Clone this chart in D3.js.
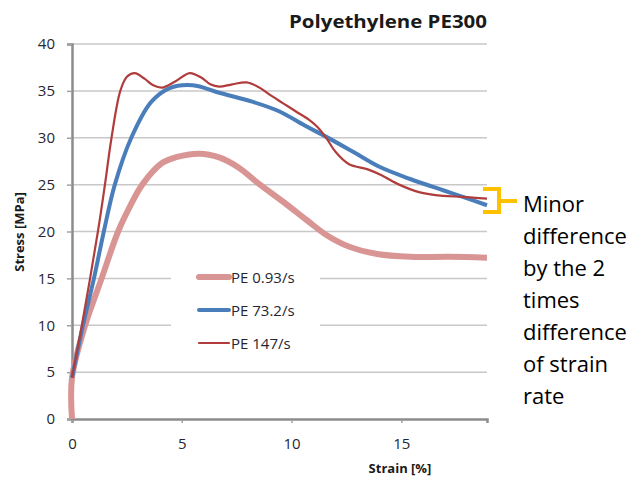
<!DOCTYPE html>
<html>
<head>
<meta charset="utf-8">
<script src="https://cdn.jsdelivr.net/npm/d3@7"></script>
<style>
  body { margin: 0; background: #fff; }
  svg { display: block; }
</style>
</head>
<body>
<svg width="644" height="491"></svg>
<script>
// strain [%], stress [MPa]
const pe093 = [
  [0, 0], [0, 4.4], [0.6, 10], [1.35, 15], [2.1, 20], [2.6, 22.5], [3.2, 25],
  [4.1, 27.3], [4.7, 27.9], [5.8, 28.3], [6.7, 27.9], [7.6, 26.8], [8.5, 25.1],
  [9.6, 23.2], [10.7, 21.2], [11.6, 19.6], [12.6, 18.4], [13.9, 17.6],
  [15.4, 17.3], [17.2, 17.3], [18.9, 17.2]
];
const pe732 = [
  [0, 4.4], [0.5, 10], [1.0, 15], [1.45, 20], [1.95, 25], [2.7, 30], [3.6, 33.8],
  [4.45, 35.3], [5.5, 35.6], [6.7, 34.8], [8.2, 33.85], [9.45, 32.8], [10.6, 31.3],
  [11.5, 30.2], [12.8, 28.5], [14.0, 26.9], [15.4, 25.6], [16.9, 24.4],
  [17.8, 23.7], [18.9, 22.8]
];
const pe147 = [
  [0, 4.4], [0.45, 10], [1.18, 20], [1.5, 25], [1.8, 30], [2.2, 35],
  [2.5, 36.5], [2.86, 36.9], [3.3, 36.3], [3.7, 35.6], [4.1, 35.35], [4.7, 36.0],
  [5.36, 36.9], [5.9, 36.4], [6.3, 35.7], [6.7, 35.45], [7.3, 35.7], [7.95, 35.9],
  [8.5, 35.4], [9.0, 34.6], [9.6, 33.7], [10.2, 32.8], [10.8, 31.9], [11.2, 31.1],
  [11.6, 29.9], [12.0, 28.5], [12.6, 27.2], [13.5, 26.6], [14.1, 26.0],
  [14.9, 25.0], [15.8, 24.2], [16.9, 23.8], [17.8, 23.7], [18.9, 23.5]
];
const seriesNames = ["PE 0.93/s", "PE 73.2/s", "PE 147/s"];
const xTicks = [0, 5, 10, 15];
const yTicks = [0, 5, 10, 15, 20, 25, 30, 35, 40];
const noteLines = ["Minor", "difference", "by the 2", "times", "difference", "of strain", "rate"];

const svg = d3.select("svg");
const font = "'Open Sans', sans-serif";

const x = d3.scaleLinear().domain([0, 18.9]).range([72, 487]);
const y = d3.scaleLinear().domain([0, 40]).range([419, 44]);

// grid lines
svg.append("g")
  .selectAll("line")
  .data(yTicks.filter(d => d > 0))
  .enter().append("line")
  .attr("x1", x(0)).attr("x2", x.range()[1])
  .attr("y1", d => y(d)).attr("y2", d => y(d))
  .attr("stroke", "#c8c8c8")
  .attr("stroke-width", 1.5);

// axes
const yAxis = svg.append("g")
  .attr("transform", `translate(${x(0)},0)`)
  .call(d3.axisLeft(y).tickValues(yTicks).tickSize(5).tickPadding(12));
const xAxis = svg.append("g")
  .attr("transform", `translate(0,${y(0)})`)
  .call(d3.axisBottom(x).tickValues(xTicks).tickSize(4).tickPadding(15));

[xAxis, yAxis].forEach(a => {
  a.select(".domain").attr("stroke", "#8c8c8c").attr("stroke-width", 2.5);
  a.selectAll(".tick line").attr("stroke", "#a0a0a0").attr("stroke-width", 1.5);
  a.selectAll(".tick text")
    .attr("font-family", font)
    .attr("font-size", 15)
    .attr("fill", "#262633");
});
xAxis.selectAll(".tick line").attr("y1", 1);

// curves
const line = d3.line()
  .x(d => x(d[0]))
  .y(d => y(d[1]))
  .curve(d3.curveCatmullRom.alpha(0.5));

const styles = [
  { color: "#d99594", width: 6 },
  { color: "#4a7ebb", width: 4 },
  { color: "#b03c3c", width: 2.2 }
];
[pe093, pe732, pe147].forEach((s, i) => {
  svg.append("path")
    .datum(s)
    .attr("d", line)
    .attr("fill", "none")
    .attr("stroke", styles[i].color)
    .attr("stroke-width", styles[i].width)
    .attr("stroke-linejoin", "round");
});

// legend
const legend = svg.append("g");
legend.append("rect")
  .attr("x", 171).attr("y", 262).attr("width", 149).attr("height", 95)
  .attr("fill", "#fff");
seriesNames.forEach((name, i) => {
  const ly = 277 + i * 33;
  legend.append("line")
    .attr("x1", 199).attr("x2", 229)
    .attr("y1", ly).attr("y2", ly)
    .attr("stroke", styles[i].color)
    .attr("stroke-width", styles[i].width)
    .attr("stroke-linecap", "round");
  legend.append("text")
    .attr("x", 231).attr("y", ly + 5.5)
    .attr("font-family", font)
    .attr("font-size", 15)
    .attr("fill", "#262633")
    .text(name);
});

// title and axis labels
svg.append("text")
  .attr("x", 487).attr("y", 28)
  .attr("text-anchor", "end")
  .attr("font-family", font)
  .attr("font-weight", "bold")
  .attr("font-size", 18.5)
  .attr("textLength", 198)
  .attr("lengthAdjust", "spacingAndGlyphs")
  .attr("fill", "#1a1a1a")
  .text("Polyethylene PE300");

svg.append("text")
  .attr("x", 400).attr("y", 473)
  .attr("text-anchor", "middle")
  .attr("font-family", font)
  .attr("font-weight", "bold")
  .attr("font-size", 13)
  .attr("fill", "#1a1a1a")
  .text("Strain [%]");

svg.append("text")
  .attr("transform", "translate(24,232) rotate(-90)")
  .attr("text-anchor", "middle")
  .attr("font-family", font)
  .attr("font-weight", "bold")
  .attr("font-size", 13)
  .attr("fill", "#1a1a1a")
  .text("Stress [MPa]");

// bracket annotation
svg.append("path")
  .attr("d", "M483,189 H499 V212 H483 M499,201 H517")
  .attr("fill", "none")
  .attr("stroke", "#ffc000")
  .attr("stroke-width", 4);

svg.append("g")
  .selectAll("text")
  .data(noteLines)
  .enter().append("text")
  .attr("x", 523)
  .attr("y", (d, i) => 212 + i * 32)
  .attr("font-family", font)
  .attr("font-size", 22)
  .attr("fill", "#000")
  .text(d => d);
</script>
</body>
</html>
